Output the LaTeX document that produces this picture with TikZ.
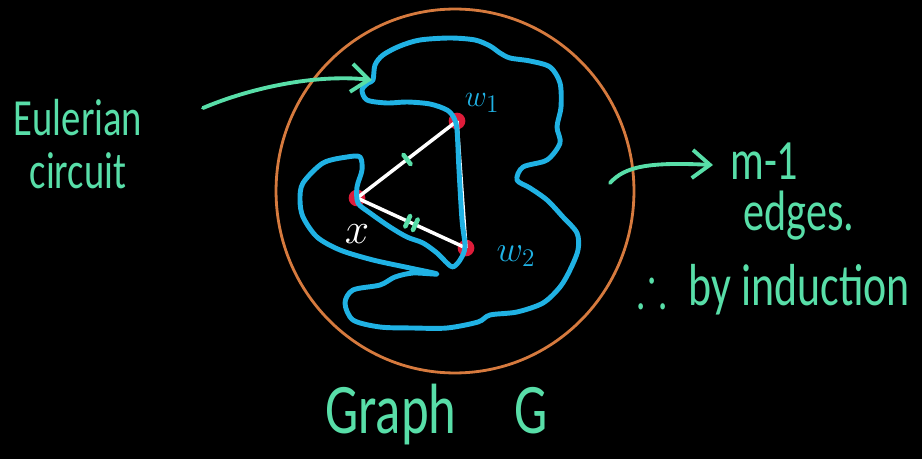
\documentclass[tikz,border=0pt]{standalone}
\usepackage{amssymb}
\usepackage{graphicx}
\usepackage{fontspec}
\setmainfont{Carlito}
\usetikzlibrary{arrows.meta}

\definecolor{chalkgreen}{RGB}{88,222,168}
\definecolor{chalkblue}{RGB}{32,178,228}
\definecolor{chalkorange}{RGB}{214,122,62}
\definecolor{chalkred}{RGB}{222,28,58}

% handwriting is taller than the font
\newcommand{\tall}[1]{\scalebox{1}[1.35]{#1}}

\begin{document}
\begin{tikzpicture}[
		x=0.02cm, y=-0.02cm,
		% Styles for the chalk lines
		ring/.style={draw=chalkorange, line width=1.6pt},
		euler-path/.style={draw=chalkblue, line width=2.8pt, line cap=round, line join=round},
		tri-edge/.style={draw=white, line width=2pt},
		pointer/.style={draw=chalkgreen, line width=2.2pt, line cap=round,
			-{Straight Barb[length=10pt, width=16pt]}},
		% Vertices and equal-length marks
		vtx/.style={circle, fill=chalkred, inner sep=0pt, minimum size=9.5pt},
		hashmark/.style={sloped, fill=chalkgreen, rounded corners=1pt, inner sep=0pt, minimum width=2.6pt, minimum height=9pt},
		% Labels
		vlabel/.style={text=chalkblue, font=\fontsize{19}{22}\selectfont},
		hand/.style={text=chalkgreen, inner sep=0pt}
		]
		
		% BACKGROUND
		\fill[black] (0,0) rectangle (922,459);
		\useasboundingbox (0,0) rectangle (922,459);
		
		% GRAPH G
		\draw[ring] (455,191) ellipse [x radius=3.58cm, y radius=3.64cm];
		
		\node[vtx] (x) at (357,198) {};
		\node[vtx] (w1) at (457,121) {};
		\node[vtx] (w2) at (466,248) {};
		
		\draw[tri-edge] (x.center) -- node[hashmark] {} (w1.center);
		\draw[tri-edge] (x.center) -- node[hashmark, pos=0.465] {} node[hashmark, pos=0.535] {} (w2.center);
		\draw[tri-edge] (w1.center) -- (w2.center);
		
		% the circuit through the other m-1 edges
		\draw[euler-path] plot[smooth cycle, tension=0.5] coordinates {
				(373,80) (375,65) (383,55) (400,46) (420,40) (450,38) (475,40) (490,46)
				(500,53) (510,58) (530,61) (550,67) (560,83) (561,107) (557,127) (560,143)
				(547,160) (523,167) (517,180) (530,188) (547,200) (563,217) (577,233) (578,250)
				(570,270) (560,287) (543,303) (517,312) (490,315) (478,322) (447,328) (413,328)
				(380,327) (353,320) (345,303) (353,290) (380,285) (395,277) (413,273) (437,274)
				(410,268) (373,260) (340,250) (317,237) (303,217) (300,200) (303,183) (323,163)
				(347,157) (360,157) (362,170) (357,187) (358,203) (370,213) (390,227) (407,237)
				(423,243) (437,253) (447,263) (453,267) (460,260) (465,247) (462,220) (459,170)
				(457,130) (454,118) (447,110) (430,104) (407,102) (387,103) (367,100) (362,90)
				(368,83)
			};
		
		\node[vlabel] (lw1) at (482,103) {$w_1$};
		\node[vlabel, font=\fontsize{21}{24}\selectfont] (lw2) at (516,256) {$w_2$};
		\node[text=white, font=\fontsize{23}{24}\selectfont] (lx) at (357,234) {$x$};
		
		% TEXT
		\node[hand, align=center, font=\fontsize{22}{30}\selectfont] (euler) at (78,144)
			{\tall{Eulerian}\\\tall{circuit}};
		\node[hand, anchor=base west, font=\fontsize{24}{28}\selectfont] (mlabel) at (730,180) {\tall{m-1}};
		\node[hand, anchor=base west, font=\fontsize{24}{28}\selectfont] (edges) at (743,230) {\tall{edges.}};
		\node[hand, anchor=base west, font=\fontsize{25}{28}\selectfont] (induct) at (637,305)
			{\tall{$\therefore$\enspace by induction}};
		\node[hand, anchor=base west, font=\fontsize{30}{36}\selectfont] (title) at (325,433)
			{\tall{Graph}\hspace{1.1em}\tall{G}};
		
		% ARROWS
		\coordinate (eul-tail) at (203,108);
		\coordinate (eul-head) at (372,80);
		\draw[pointer] (eul-tail) .. controls (250,88) and (315,74) .. (eul-head);
		
		\coordinate (cnt-tail) at (610,183);
		\coordinate (cnt-head) at (713,165);
		\draw[pointer] (cnt-tail) .. controls (625,166) and (650,162) .. (cnt-head);
	\end{tikzpicture}
\end{document}
